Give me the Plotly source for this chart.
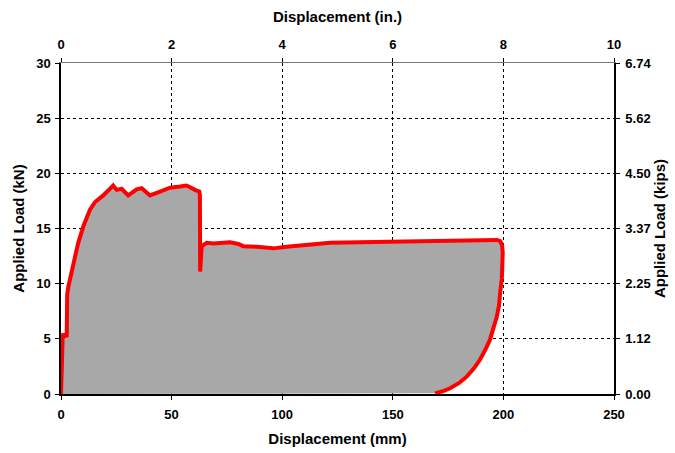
import plotly.graph_objects as go

# Load-displacement record (displacement in mm, load in kN)
disp_mm = [0.0, 0.4, 0.8, 1.0, 2.6, 2.8, 3.3, 4.8, 6.3, 7.8, 10.1, 13.1, 15.4, 19.1,
           23.6, 25.2, 27.4, 30.4, 34.2, 36.5, 40.2, 44.8, 49.3, 53.8, 56.8, 60.6,
           62.5, 62.8, 62.9, 63.6, 65.9, 68.9, 76.4, 80.2, 82.4, 88.5, 96.0, 102.0,
           108.0, 114.1, 121.6, 135.0, 153.3, 175.8, 197.0, 198.6, 199.4, 199.7,
           199.6, 199.3, 198.5, 198.0, 197.0, 195.7, 193.9, 191.8, 189.4, 186.6,
           183.4, 180.0, 175.9, 172.5, 169.1]
load_kn = [0.0, 3.0, 5.5, 5.2, 5.3, 9.0, 9.7, 10.9, 12.4, 13.7, 15.2, 16.7, 17.4, 18.0,
           18.9, 18.5, 18.6, 18.0, 18.55, 18.65, 18.0, 18.35, 18.7, 18.8, 18.9, 18.5,
           18.35, 18.0, 11.1, 13.4, 13.7, 13.65, 13.75, 13.6, 13.4, 13.35, 13.2, 13.35,
           13.45, 13.6, 13.7, 13.75, 13.8, 13.9, 13.96, 13.85, 13.5, 12.8,
           11.85, 10.5, 9.1, 8.0, 7.0, 6.0, 4.9, 4.0, 3.1, 2.3,
           1.57, 1.0, 0.52, 0.25, 0.06]

# Secondary scales
in_ticks = [0, 2, 4, 6, 8, 10]
kip_ticks = [0.0, 1.124, 2.248, 3.372, 4.496, 5.62, 6.744]
kip_labels = ["0.00", "1.12", "2.25", "3.37", "4.50", "5.62", "6.74"]
mm_ticks = [0, 50, 100, 150, 200, 250]
kn_ticks = [0, 5, 10, 15, 20, 25, 30]

FONT = "Liberation Sans, Arial, sans-serif"

fig = go.Figure()

# Shaded area under the curve
fig.add_trace(go.Scatter(
    x=disp_mm + [0.0], y=load_kn + [0.0], mode="none", fill="toself",
    fillcolor="#a8a8a8", hoverinfo="skip", showlegend=False))

# Load curve
fig.add_trace(go.Scatter(
    x=disp_mm, y=load_kn, mode="lines",
    line=dict(color="#ff0000", width=4), showlegend=False))

# Anchor for the inch / kip axes
fig.add_trace(go.Scatter(
    x=[0, 10], y=[0, 6.744], xaxis="x2", yaxis="y2", mode="none",
    hoverinfo="skip", showlegend=False))

tickfont = dict(family=FONT, size=13, color="black")
titlefont = dict(family=FONT, size=15, color="black")

fig.update_layout(
    width=675, height=453,
    margin=dict(l=61, r=61, t=63, b=59),
    paper_bgcolor="white", plot_bgcolor="white",
    font=dict(family=FONT, color="black"),
    xaxis=dict(
        range=[0, 250], tickvals=mm_ticks, ticktext=[f"<b>{v}</b>" for v in mm_ticks],
        tickfont=tickfont, ticks="outside", ticklen=4, tickcolor="black",
        ticklabelstandoff=4, automargin=False,
        showline=True, linecolor="black", linewidth=1.5,
        showgrid=True, gridcolor="black", griddash="dot", gridwidth=1,
        zeroline=False,
        title=dict(text="<b>Displacement (mm)</b>", font=titlefont, standoff=12)),
    yaxis=dict(
        range=[0, 30], tickvals=kn_ticks, ticktext=[f"<b>{v}</b>" for v in kn_ticks],
        tickfont=tickfont, ticks="outside", ticklen=4, tickcolor="black",
        ticklabelstandoff=2, automargin=False,
        showline=True, linecolor="black", linewidth=1.5,
        showgrid=True, gridcolor="black", griddash="dot", gridwidth=1,
        zeroline=False,
        title=dict(text="<b>Applied Load (kN)</b>", font=titlefont, standoff=8)),
    xaxis2=dict(
        overlaying="x", side="top", anchor="y",
        range=[0, 10], tickvals=in_ticks, ticktext=[f"<b>{v}</b>" for v in in_ticks],
        tickfont=tickfont, ticks="outside", ticklen=4, tickcolor="black",
        ticklabelstandoff=4, automargin=False,
        showline=True, linecolor="#777777", linewidth=1,
        showgrid=False, zeroline=False,
        title=dict(text="<b>Displacement (in.)</b>", font=titlefont, standoff=10)),
    yaxis2=dict(
        overlaying="y", side="right", anchor="x",
        range=[0, 6.744], tickvals=kip_ticks, ticktext=[f"<b>{t}</b>" for t in kip_labels],
        tickfont=tickfont, ticks="outside", ticklen=4, tickcolor="black",
        ticklabelstandoff=3, automargin=False,
        showline=True, linecolor="black", linewidth=1.5,
        showgrid=False, zeroline=False,
        title=dict(text="<b>Applied Load (kips)</b>", font=titlefont, standoff=0)),
)

fig.write_html("out.html")
